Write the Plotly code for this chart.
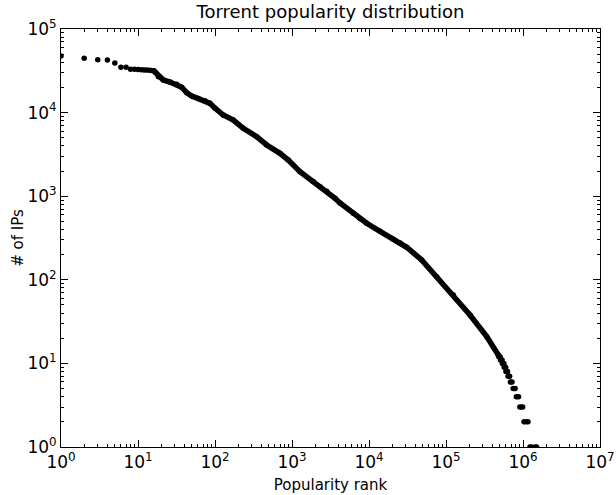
import plotly.graph_objects as go

# ---- data ----
sparse_rank = [1, 2, 3, 4, 5, 6, 7, 8, 9, 10, 11, 12, 13, 14, 15, 16]
sparse_count = [47500, 44600, 42800, 42500, 39200, 34800, 34800, 33000, 32900,
                32700, 32500, 32400, 32300, 32100, 31900, 31600]

curve_rank = [16, 17, 18.4, 21.3, 26, 31.8, 36.9, 42.9, 49.8, 60.8, 74, 86, 100,
              128, 173, 233, 348, 469, 698, 895, 1270, 1890, 2310, 2820, 3620,
              4200, 6250, 7640, 9330, 13900, 20700, 25300, 30900, 48300, 75700,
              124500, 205000, 338000, 478000]
curve_count = [31600, 30000, 26900, 24550, 23200, 21800, 20100, 17300, 15800,
               14700, 13900, 12900, 11300, 9350, 8150, 6480, 5150, 4100, 3260,
               2710, 1965, 1500, 1300, 1150, 944, 830, 624, 540, 474, 380, 305,
               275, 245, 173, 109, 65.8, 37.9, 20.9, 12.6]

step_count = [12, 11, 10, 9, 8, 7, 6, 5, 4, 3, 2, 1]
step_start = [4.85e5, 5.1e5, 5.4e5, 5.7e5, 6.0e5, 6.4e5, 6.85e5, 7.45e5, 8.2e5,
              9.1e5, 1.03e6, 1.23e6]
step_end = [5.05e5, 5.35e5, 5.65e5, 5.95e5, 6.3e5, 6.7e5, 7.2e5, 7.9e5, 8.75e5,
            9.9e5, 1.16e6, 1.50e6]

x_tickvals = [1, 10, 100, 1e3, 1e4, 1e5, 1e6, 1e7]
x_ticktext = ["10<sup>%d</sup>" % i for i in range(8)]
y_tickvals = [1, 10, 100, 1e3, 1e4, 1e5]
y_ticktext = ["10<sup>%d</sup>" % i for i in range(6)]

title_text = "Torrent popularity distribution"
x_title = "Popularity rank"
y_title = "# of IPs"

# ---- build figure ----
seg_x, seg_y = [], []
for c, s, e in zip(step_count, step_start, step_end):
    seg_x += [s, e, None]
    seg_y += [c, c, None]

fig = go.Figure()
fig.add_trace(go.Scatter(x=curve_rank, y=curve_count, mode="lines+markers",
                         line=dict(color="black", width=5.5),
                         marker=dict(color="black", size=5.5),
                         showlegend=False, hoverinfo="skip"))
fig.add_trace(go.Scatter(x=sparse_rank, y=sparse_count, mode="markers",
                         marker=dict(color="black", size=5.5),
                         showlegend=False, hoverinfo="skip"))
fig.add_trace(go.Scatter(x=seg_x, y=seg_y, mode="lines+markers",
                         line=dict(color="black", width=5),
                         marker=dict(color="black", size=5.5),
                         showlegend=False, hoverinfo="skip", connectgaps=False))

font_family = "DejaVu Sans"
axis_common = dict(
    showgrid=False, zeroline=False, showline=True, linecolor="black", linewidth=1,
    mirror="allticks", ticks="inside", ticklen=7, tickcolor="black", tickwidth=1,
    automargin=False,
    tickfont=dict(family=font_family, size=17, color="black"),
    minor=dict(ticks="inside", ticklen=3, tickcolor="black", dtick="D1", showgrid=False),
)

fig.update_layout(
    width=616, height=495,
    margin=dict(l=61, r=16, t=29, b=48),
    paper_bgcolor="white", plot_bgcolor="white",
    title=dict(text=title_text, x=0.5, xanchor="center",
               xref="paper", y=1 - 12 / 495, yanchor="middle",
               font=dict(family=font_family, size=18, color="black")),
    xaxis=dict(type="log", range=[0, 7], tickvals=x_tickvals, ticktext=x_ticktext,
               title=dict(text=x_title, standoff=8,
                          font=dict(family=font_family, size=15, color="black")),
               **axis_common),
    yaxis=dict(type="log", range=[0, 5], tickvals=y_tickvals, ticktext=y_ticktext,
               title=dict(text=y_title, standoff=0,
                          font=dict(family=font_family, size=15, color="black")),
               **axis_common),
)

fig.write_html("out.html", config={"displayModeBar": False},
               post_script="document.body.style.margin='0px';document.body.style.overflow='hidden';")
